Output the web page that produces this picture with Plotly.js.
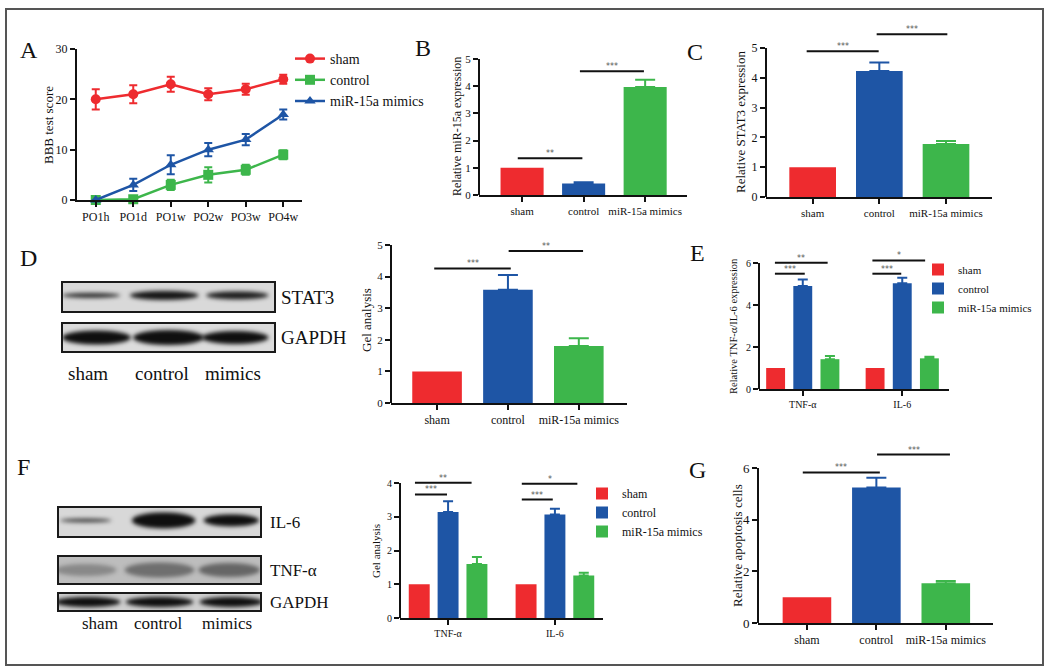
<!DOCTYPE html>
<html><head><meta charset="utf-8">
<script src="https://cdn.plot.ly/plotly-3.0.1.min.js"></script>
<style>html,body{margin:0;padding:0;background:#fff}#chart{width:1050px;height:672px}</style>
</head><body><div id="chart"></div>
<script>
// ---------- DATA ----------
const timepoints = ['PO1h','PO1d','PO1w','PO2w','PO3w','PO4w'];
const bbbSham = [20, 21, 23, 21, 22, 24];
const bbbShamErr = [2, 1.8, 1.5, 1.2, 1.1, 0.9];
const bbbControl = [0, 0.15, 3, 5, 6, 9];
const bbbControlErr = [0, 0.3, 1, 1.5, 1, 0.9];
const bbbMimics = [0, 3, 7, 10, 12, 17];
const bbbMimicsErr = [0, 1.2, 1.9, 1.3, 1.1, 1];
const seriesNames = ['sham', 'control', 'miR-15a mimics'];

const groups = ['sham', 'control', 'miR-15a mimics'];
const mirValues = [1.0, 0.42, 3.97];
const mirErr = [0, 0.05, 0.27];
const stat3Values = [1.0, 4.23, 1.78];
const stat3Err = [0, 0.28, 0.1];
const gelStat3Values = [1.0, 3.58, 1.8];
const gelStat3Err = [0, 0.47, 0.25];
const apoptosisValues = [1.0, 5.25, 1.54];
const apoptosisErr = [0, 0.37, 0.09];

const cytokines = ['TNF-α', 'IL-6'];
const mrnaSham = [1, 1];
const mrnaControl = [4.9, 5.03];
const mrnaControlErr = [0.32, 0.27];
const mrnaMimics = [1.42, 1.46];
const mrnaMimicsErr = [0.15, 0.07];
const gelSham = [1, 1];
const gelControl = [3.14, 3.07];
const gelControlErr = [0.32, 0.17];
const gelMimics = [1.6, 1.26];
const gelMimicsErr = [0.21, 0.08];

// significance brackets: [x0, x1, y, label] in category-index units
const sigB = [[-0.07, 0.98, 1.35, '**'], [0.94, 1.98, 4.55, '***']];
const sigC = [[-0.09, 0.99, 4.89, '***'], [0.96, 2.02, 5.46, '***']];
const sigD = [[-0.04, 1.04, 4.26, '***'], [1.01, 2.06, 4.81, '**']];
const sigE = [[-0.28, 0.02, 5.49, '***'], [-0.28, 0.25, 6.01, '**'], [0.70, 0.99, 5.49, '***'], [0.70, 1.23, 6.12, '*']];
const sigF = [[-0.31, -0.01, 3.66, '***'], [-0.31, 0.22, 4.01, '**'], [0.69, 0.98, 3.51, '***'], [0.69, 1.21, 3.98, '*']];
const sigG = [[-0.06, 1.05, 5.83, '***'], [1.01, 2.06, 6.52, '***']];

// western blot lanes
const laneLabels = ['sham', 'control', 'mimics'];
const blotD = [
  {name:'STAT3', bg:'#d9d9d9', cx:[0.14,0.48,0.82], w:[0.27,0.32,0.29], h:[5,9,8], a:[0.85,0.97,0.92], cy:0.45},
  {name:'GAPDH', bg:'#dcdcdc', cx:[0.165,0.5,0.81], w:[0.32,0.33,0.31], h:[14,15,13], a:[1,1,1], cy:0.5}
];
const blotF = [
  {name:'IL-6', bg:'#d8d8d8', cx:[0.14,0.52,0.85], w:[0.25,0.31,0.27], h:[4,16,12], a:[0.75,1,1], cy:0.45},
  {name:'TNF-α', bg:'#bdbdbd', cx:[0.14,0.5,0.84], w:[0.3,0.34,0.3], h:[12,15,14], a:[0.3,0.45,0.5], cy:0.5},
  {name:'GAPDH', bg:'#cfcfcf', cx:[0.15,0.5,0.85], w:[0.32,0.33,0.31], h:[10,10,10], a:[1,1,1], cy:0.5}
];

// ---------- STYLE / LAYOUT ----------
const W = 1050, H = 672;
const FONT = "'Liberation Serif','Times New Roman',serif";
const RED = '#EE2B2F', BLUE = '#1E55A5', GREEN = '#3DB64B';
const groupColors = [RED, BLUE, GREEN];
const lineColors = [RED, GREEN, BLUE];
const px = v => v / W, py = v => 1 - v / H;

const data = [], shapes = [], annotations = [], images = [];
const layout = {
  width: W, height: H, margin: {l:0, r:0, t:0, b:0},
  paper_bgcolor: '#fff', plot_bgcolor: 'rgba(0,0,0,0)',
  barmode: 'overlay', hovermode: false,
  font: {family: FONT, color: '#111', size: 12},
  shapes, annotations, images
};

function paperText(x, y, text, size, extra) {
  annotations.push(Object.assign({xref:'paper', yref:'paper', x:px(x), y:py(y), text:text, showarrow:false,
    xanchor:'center', yanchor:'middle', font:{family:FONT, size:size, color:'#111'}}, extra || {}));
}

function setAxes(id, o) {
  const ppu = (o.yZero - o.yTop) / o.tickMax;
  const top = o.yZero - o.rangeMax * ppu;
  const tickBase = {ticks:'outside', ticklen:5, tickwidth:2, tickcolor:'#111', showgrid:false, zeroline:false, fixedrange:true};
  layout['xaxis' + id] = Object.assign({}, tickBase, {
    domain: [px(o.x0), px(o.x1)], range: o.xr, type: 'category', categoryorder: 'array', categoryarray: o.cats,
    anchor: 'y' + id, showline: true, linewidth: 2, linecolor: '#111',
    tickfont: {family: FONT, size: o.xfs, color: '#111'}
  });
  layout['yaxis' + id] = Object.assign({}, tickBase, {
    domain: [py(o.yZero), py(top)], range: [0, o.rangeMax], anchor: 'x' + id,
    showline: false, tickmode: 'array', tickvals: o.tickvals,
    tickfont: {family: FONT, size: o.yfs, color: '#111'}
  });
  shapes.push({type:'line', xref:'x' + id + ' domain', yref:'y' + id, x0:0, x1:0, y0:0, y1:o.tickMax, line:{color:'#111', width:2}});
  paperText(o.titleX, o.titleY, o.title, o.tfs, {textangle:-90});
}

function addSig(id, sigs) {
  sigs.forEach(s => {
    shapes.push({type:'line', xref:'x' + id, yref:'y' + id, x0:s[0], x1:s[1], y0:s[2], y1:s[2], line:{color:'#111', width:2}});
    annotations.push({xref:'x' + id, yref:'y' + id, x:(s[0] + s[1]) / 2, y:s[2], text:s[3], showarrow:false,
      xanchor:'center', yanchor:'bottom', yshift:-2, font:{family:'DejaVu Sans', size:8, color:'#555'}});
  });
}

function addSimpleBars(id, vals, errs) {
  groups.forEach((g, i) => {
    data.push({type:'bar', x:[g], y:[vals[i]], xaxis:'x' + id, yaxis:'y' + id, width:0.7, showlegend:false,
      marker:{color:groupColors[i], line:{width:0}},
      error_y:{type:'data', symmetric:false, array:[errs[i]], arrayminus:[0], visible: errs[i] > 0,
        color:groupColors[i], thickness:2, width:10}});
  });
}

function addGroupedBars(id, series, errs, legendId, barW, off) {
  series.forEach((vals, i) => {
    data.push({type:'bar', x:cytokines, y:vals, xaxis:'x' + id, yaxis:'y' + id, name:seriesNames[i],
      legend:legendId, width:barW, offset:(i - 1) * off - barW / 2, marker:{color:groupColors[i], line:{width:0}},
      error_y:{type:'data', symmetric:false, array:errs[i], arrayminus:vals.map(() => 0), visible: errs[i].some(e => e > 0),
        color:groupColors[i], thickness:2, width:5}});
  });
}

// ---- Panel A ----
layout.xaxis = {domain:[px(77), px(302)], range:[-0.5, 5.5], type:'category', categoryorder:'array', categoryarray:timepoints,
  anchor:'y', showline:true, linewidth:2, linecolor:'#111', ticks:'outside', ticklen:5, tickwidth:2, tickcolor:'#111',
  showgrid:false, zeroline:false, tickfont:{family:FONT, size:12, color:'#111'}};
layout.yaxis = {domain:[py(200), py(49)], range:[0, 30], anchor:'x', showline:true, linewidth:2, linecolor:'#111',
  ticks:'outside', ticklen:5, tickwidth:2, tickcolor:'#111', tickvals:[0,10,20,30], showgrid:false, zeroline:false,
  tickfont:{family:FONT, size:12, color:'#111'}};
paperText(48, 125, 'BBB test score', 13, {textangle:-90});
[[bbbSham, bbbShamErr, 'circle'], [bbbControl, bbbControlErr, 'square'], [bbbMimics, bbbMimicsErr, 'triangle-up']].forEach((s, i) => {
  data.push({type:'scatter', mode:'lines+markers', x:timepoints, y:s[0], name:seriesNames[i], xaxis:'x', yaxis:'y',
    legend:'legend', cliponaxis:false, line:{color:lineColors[i], width:2.5},
    marker:{symbol:s[2], size:10, color:lineColors[i]},
    error_y:{type:'data', array:s[1], color:lineColors[i], thickness:2, width:4}});
});
layout.legend = {x:px(290), y:py(43), xanchor:'left', yanchor:'top', bgcolor:'rgba(0,0,0,0)',
  font:{family:FONT, size:14, color:'#111'}, tracegroupgap:0};

// ---- Panel B ----
setAxes('2', {x0:479, x1:687, xr:[-0.70, 2.68], cats:groups, yZero:195, yTop:59, tickMax:5, rangeMax:5.0,
  tickvals:[0,1,2,3,4,5], xfs:11, yfs:11, title:'Relative miR-15a expression', titleX:457, titleY:127, tfs:12});
addSimpleBars('2', mirValues, mirErr);
addSig('2', sigB);

// ---- Panel C ----
setAxes('3', {x0:766, x1:992, xr:[-0.70, 2.69], cats:groups, yZero:197, yTop:48, tickMax:5, rangeMax:5.8,
  tickvals:[0,1,2,3,4,5], xfs:11, yfs:12, title:'Relative STAT3 expression', titleX:740, titleY:122, tfs:13});
addSimpleBars('3', stat3Values, stat3Err);
addSig('3', sigC);

// ---- Panel D chart ----
setAxes('4', {x0:391, x1:627, xr:[-0.65, 2.68], cats:groups, yZero:403, yTop:245, tickMax:5, rangeMax:5.2,
  tickvals:[0,1,2,3,4,5], xfs:12, yfs:11, title:'Gel analysis', titleX:366, titleY:320, tfs:13});
addSimpleBars('4', gelStat3Values, gelStat3Err);
addSig('4', sigD);

// ---- Panel E ----
setAxes('5', {x0:759, x1:949, xr:[-0.44, 1.47], cats:cytokines, yZero:389, yTop:263, tickMax:6, rangeMax:6.7,
  tickvals:[0,2,4,6], xfs:10, yfs:10, title:'Relative TNF-α/IL-6 expression', titleX:733, titleY:326, tfs:10.5});
addGroupedBars('5', [mrnaSham, mrnaControl, mrnaMimics], [[0,0], mrnaControlErr, mrnaMimicsErr], 'legend2', 0.19, 0.273);
addSig('5', sigE);
layout.legend2 = {x:px(918), y:py(255), xanchor:'left', yanchor:'top', bgcolor:'rgba(0,0,0,0)',
  font:{family:FONT, size:11, color:'#111'}, tracegroupgap:0};

// ---- Panel F chart ----
setAxes('6', {x0:400, x1:603, xr:[-0.45, 1.45], cats:cytokines, yZero:618, yTop:483, tickMax:4, rangeMax:4.45,
  tickvals:[0,1,2,3,4], xfs:10, yfs:10, title:'Gel analysis', titleX:376, titleY:551, tfs:11});
addGroupedBars('6', [gelSham, gelControl, gelMimics], [[0,0], gelControlErr, gelMimicsErr], 'legend3', 0.196, 0.27);
addSig('6', sigF);
layout.legend3 = {x:px(582), y:py(479), xanchor:'left', yanchor:'top', bgcolor:'rgba(0,0,0,0)',
  font:{family:FONT, size:12, color:'#111'}, tracegroupgap:0};

// ---- Panel G ----
setAxes('7', {x0:758, x1:993, xr:[-0.705, 2.68], cats:groups, yZero:623, yTop:468, tickMax:6, rangeMax:6.95,
  tickvals:[0,2,4,6], xfs:12, yfs:13, title:'Relative apoptosis cells', titleX:737, titleY:546, tfs:13});
addSimpleBars('7', apoptosisValues, apoptosisErr);
addSig('7', sigG);

// ---- panel letters ----
[['A',29,50],['B',423,48],['C',695,52],['D',28,258],['E',697,253],['F',23,467],['G',697,470]].forEach(l => {
  paperText(l[1], l[2], l[0], 24);
});

// ---- western blots ----
function blotImage(wPx, hPx, b) {
  const s = 3, c = document.createElement('canvas');
  c.width = wPx * s; c.height = hPx * s;
  const g = c.getContext('2d');
  g.fillStyle = b.bg; g.fillRect(0, 0, c.width, c.height);
  b.cx.forEach((cx, i) => {
    g.save();
    g.filter = 'blur(' + (2.2 * s) + 'px)';
    g.fillStyle = 'rgba(15,15,15,' + b.a[i] + ')';
    g.beginPath();
    g.ellipse(cx * wPx * s, b.cy * hPx * s, b.w[i] * wPx * s / 2, b.h[i] * s / 2, 0, 0, 2 * Math.PI);
    g.fill();
    g.restore();
  });
  g.lineWidth = 2 * s; g.strokeStyle = '#1a1a1a';
  g.strokeRect(s, s, c.width - 2 * s, c.height - 2 * s);
  return c.toDataURL();
}
function placeBlot(b, x, y, w, h, labelX, labelSize) {
  images.push({source:blotImage(w, h, b), xref:'paper', yref:'paper', x:px(x), y:py(y), sizex:w / W, sizey:h / H,
    xanchor:'left', yanchor:'top', sizing:'stretch', layer:'above'});
  paperText(labelX, y + h / 2, b.name, labelSize, {xanchor:'left'});
}
placeBlot(blotD[0], 61, 281, 215, 32, 279, 19);
placeBlot(blotD[1], 61, 322, 215, 31, 279, 19);
[88, 162, 233].forEach((x, i) => paperText(x, 373, laneLabels[i], 19));
placeBlot(blotF[0], 57, 506, 205, 32, 268, 17);
placeBlot(blotF[1], 57, 555, 205, 30, 268, 17);
placeBlot(blotF[2], 57, 592, 205, 20, 268, 17);
[100, 158, 227].forEach((x, i) => paperText(x, 623, laneLabels[i], 17));

// outer frame
shapes.push({type:'rect', xref:'paper', yref:'paper', x0:px(6), x1:px(1043), y0:py(9), y1:py(665),
  line:{color:'#555', width:2}, fillcolor:'rgba(0,0,0,0)'});

Plotly.newPlot('chart', data, layout, {staticPlot:true, displayModeBar:false});
</script></body></html>
